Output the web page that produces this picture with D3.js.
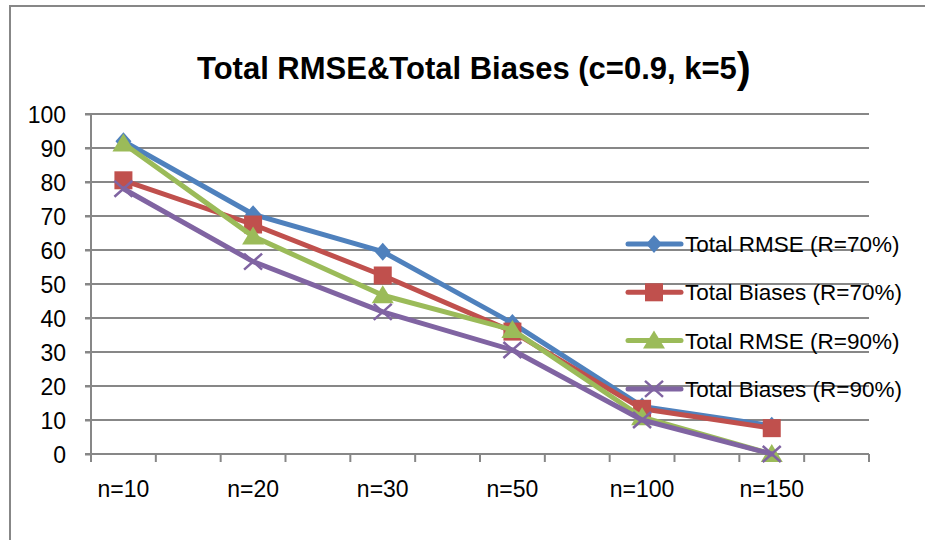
<!DOCTYPE html>
<meta charset='utf-8'>
<style>
body { margin: 0; background: #fff; }
svg text { font-family: 'Liberation Sans', Arial, sans-serif; fill: #000; }
.grid line { stroke: #878787; stroke-width: 2; }
.series path.line { fill: none; stroke-width: 5; stroke-linejoin: round; stroke-linecap: round; }
</style>
<svg width='925' height='540'></svg>
<script src='https://d3js.org/d3.v7.min.js'></script>
<script>

// categories on the x axis; every category takes two slots, as in the source sheet
var categories = ['n=10', 'n=20', 'n=30', 'n=50', 'n=100', 'n=150'];
var slotCount = 12;
var yTicks = [0, 10, 20, 30, 40, 50, 60, 70, 80, 90, 100];

var seriesNames = ['Total RMSE (R=70%)', 'Total Biases (R=70%)', 'Total RMSE (R=90%)', 'Total Biases (R=90%)'];
var rmse70   = [92, 70.5, 59.5, 38.5, 14, 8.3];
var biases70 = [80.5, 67.5, 52.5, 36, 13.3, 7.6];
var rmse90   = [91.3, 64, 46.7, 36.5, 10.8, 0];
var biases90 = [78, 56.6, 41.8, 30.6, 10, 0];

var colors  = ['#4F81BD', '#C0504D', '#9BBB59', '#8064A2'];
var markers = ['diamond', 'square', 'triangle', 'x'];

var svg = d3.select('svg'),
    plotLeft = 91, plotRight = 869, plotTop = 114, plotBottom = 454;

svg.append('rect')
    .attr('x', 10).attr('y', 6)
    .attr('width', 940).attr('height', 560)
    .attr('fill', '#fff')
    .attr('stroke', '#878787')
    .attr('stroke-width', 2);

var x = d3.scaleBand().domain(d3.range(slotCount)).range([plotLeft, plotRight]);
var y = d3.scaleLinear().domain([0, 100]).range([plotBottom, plotTop]);

function cx(i) { return x(i * 2) + x.bandwidth() / 2; }

// title, the closing bracket is bigger in the original
var title = svg.append('text')
    .attr('x', 197).attr('y', 79)
    .style('font-weight', 'bold')
    .style('font-size', '31px');
title.append('tspan').text('Total RMSE&Total Biases (c=0.9, k=5');
title.append('tspan').style('font-size', '42px').attr('dy', 3).text(')');

// gridlines
svg.append('g').attr('class', 'grid')
  .selectAll('line')
  .data(yTicks)
  .enter().append('line')
    .attr('x1', plotLeft - 6).attr('x2', plotRight)
    .attr('y1', function(d) { return y(d); })
    .attr('y2', function(d) { return y(d); });

// y axis
var yAxis = svg.append('g')
    .attr('transform', 'translate(' + plotLeft + ',0)')
    .call(d3.axisLeft(y).tickValues(yTicks).tickSize(6).tickPadding(19));
yAxis.selectAll('line, path').attr('stroke', '#878787').attr('stroke-width', 2);
yAxis.select('path').attr('d', 'M0,' + plotTop + 'V' + plotBottom);
yAxis.selectAll('text').style('font-size', '23px').attr('dy', '0.36em')
    .style('font-family', "'Liberation Sans', Arial, sans-serif");

// x axis: ticks at every slot edge, labels at category centres
var xg = svg.append('g');
xg.append('line')
    .attr('x1', plotLeft).attr('x2', plotRight)
    .attr('y1', plotBottom).attr('y2', plotBottom)
    .attr('stroke', '#878787').attr('stroke-width', 2);
xg.selectAll('line.tick')
  .data(d3.range(slotCount + 1))
  .enter().append('line')
    .attr('class', 'tick')
    .attr('x1', function(d) { return d < slotCount ? x(d) : plotRight; })
    .attr('x2', function(d) { return d < slotCount ? x(d) : plotRight; })
    .attr('y1', plotBottom).attr('y2', plotBottom + 8)
    .attr('stroke', '#878787').attr('stroke-width', 2);
xg.selectAll('text')
  .data(categories)
  .enter().append('text')
    .attr('x', function(d, i) { return cx(i); })
    .attr('y', 497)
    .attr('text-anchor', 'middle')
    .style('font-size', '23px')
    .text(function(d) { return d; });

function drawMarker(g, type, color) {
  if (type == 'diamond') {
    g.append('path').attr('d', 'M0,-9L8,0L0,9L-8,0Z').attr('fill', color);
  } else if (type == 'square') {
    g.append('rect').attr('x', -9).attr('y', -9).attr('width', 18).attr('height', 18).attr('fill', color);
  } else if (type == 'triangle') {
    g.append('path').attr('d', 'M0,-10L11,8L-11,8Z').attr('fill', color);
  } else {
    g.append('path').attr('d', 'M-9,-8L9,8M-9,8L9,-8')
        .attr('stroke', color).attr('stroke-width', 2.5).attr('fill', 'none');
  }
}

var allSeries = [rmse70, biases70, rmse90, biases90];
var line = d3.line()
    .x(function(d, i) { return cx(i); })
    .y(function(d) { return y(d); });

allSeries.forEach(function(values, s) {
  var g = svg.append('g').attr('class', 'series');
  g.append('path').attr('class', 'line')
      .attr('d', line(values))
      .attr('stroke', colors[s]);
  values.forEach(function(v, i) {
    var m = g.append('g').attr('transform', 'translate(' + cx(i) + ',' + y(v) + ')');
    drawMarker(m, markers[s], colors[s]);
  });
});

// legend
var legend = svg.append('g');
seriesNames.forEach(function(name, s) {
  var ly = 244 + s * 48.3;
  var row = legend.append('g').attr('transform', 'translate(626,' + ly + ')');
  row.append('line')
      .attr('x1', 2).attr('x2', 55).attr('y1', 0).attr('y2', 0)
      .attr('stroke', colors[s]).attr('stroke-width', 5).attr('stroke-linecap', 'round');
  var m = row.append('g').attr('transform', 'translate(28,0)');
  drawMarker(m, markers[s], colors[s]);
  row.append('text')
      .attr('x', 59).attr('y', 8)
      .style('font-size', '22.5px')
      .text(name);
});

</script>
